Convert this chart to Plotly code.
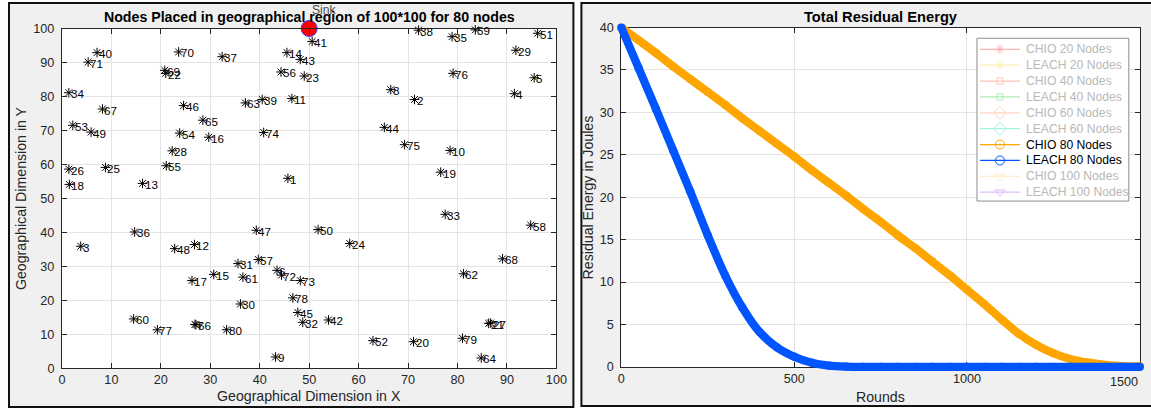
import plotly.graph_objects as go

W, H = 1151, 409
FONT = "Liberation Sans, Arial, Helvetica, sans-serif"
AXIS_GRAY = "#262626"
GRID_GRAY = "#e4e4e4"
PANEL_GRAY = "#f0f0f0"

# page placement of the figure as it ends up in the captured frame
SX, OX = 0.988, 0.0
SY, OY = 0.961, 7.9
FS = 1 / SX          # font scale keeping text widths on target

# ---------------- node placement data ----------------
node_ids = list(range(1, 81))
node_x = [45.7, 71.3, 3.8, 91.5, 95.5, 43.5, 26.9, 66.5, 43.2, 78.5,
          46.5, 26.8, 16.3, 45.5, 30.7, 29.7, 26.3, 1.5, 76.6, 71.1,
          86.3, 21.0, 49.0, 58.2, 8.8, 1.4, 86.7, 22.3, 91.8, 36.1,
          35.6, 48.7, 77.5, 1.4, 78.9, 14.7, 32.4, 72.1, 40.5, 7.1,
          50.6, 53.9, 48.2, 65.2, 47.7, 24.6, 39.3, 22.8, 5.9, 51.8,
          96.2, 62.9, 2.2, 23.8, 21.1, 44.3, 39.7, 94.8, 83.6, 14.5,
          36.6, 81.2, 37.1, 84.8, 28.5, 27.1, 8.2, 89.1, 20.8, 23.6,
          5.3, 44.4, 48.2, 40.8, 69.3, 79.1, 19.3, 46.7, 81.0, 33.3]
node_y = [55.9, 79.1, 35.9, 80.8, 85.5, 28.8, 12.9, 82.0, 3.3, 64.1,
          79.4, 36.4, 54.4, 92.9, 27.6, 68.0, 25.8, 54.1, 57.7, 7.8,
          13.2, 86.8, 86.0, 36.7, 59.1, 58.6, 13.3, 64.0, 93.6, 18.9,
          30.8, 13.5, 45.3, 81.1, 97.6, 40.1, 91.7, 99.5, 79.1, 92.9,
          96.2, 14.2, 90.9, 70.9, 16.4, 77.3, 40.6, 35.2, 69.5, 40.8,
          98.6, 8.1, 71.5, 69.2, 59.6, 87.2, 32.0, 42.1, 99.6, 14.5,
          26.8, 27.8, 78.1, 3.0, 73.0, 12.8, 76.3, 32.2, 87.7, 93.1,
          90.1, 27.4, 25.8, 69.4, 65.8, 86.8, 11.3, 20.7, 8.8, 11.3]
sink_x = [50]
sink_y = [100]
sink_label = "Sink"
area_ticks = [0, 10, 20, 30, 40, 50, 60, 70, 80, 90, 100]

# ---------------- residual energy data ----------------
rounds = [0, 50, 100, 150, 200, 250, 300, 350, 400, 450, 500, 550, 600, 650,
          700, 750, 800, 850, 900, 950, 1000, 1050, 1100, 1150, 1200, 1250,
          1300, 1350, 1400, 1450, 1500]
chio_80 = [40.0, 38.5, 37.0, 35.4, 33.9, 32.4, 30.9, 29.3, 27.8, 26.3, 24.8,
           23.2, 21.7, 20.2, 18.6, 17.1, 15.5, 14.0, 12.4, 10.8, 9.1, 7.4,
           5.6, 3.9, 2.6, 1.6, 0.9, 0.5, 0.25, 0.1, 0.05]
leach_80 = [40.0, 35.2, 30.4, 25.5, 20.6, 15.5, 10.8, 7.0, 4.1, 2.3, 1.2,
            0.5, 0.15, 0.03, 0.0, 0.0, 0.0, 0.0, 0.0, 0.0, 0.0, 0.0, 0.0,
            0.0, 0.0, 0.0, 0.0, 0.0, 0.0, 0.0, 0.0]
round_ticks = [0, 500, 1000, 1500]
round_tick_text = ["0", "500", "1000", ""]   # last one is set flush right below
last_round_label = "1500"
energy_ticks = [0, 5, 10, 15, 20, 25, 30, 35, 40]
ROUND_RANGE = [0, 1500]
ENERGY_RANGE = [0, 40]

legend_names = ["CHIO 20 Nodes", "LEACH 20 Nodes", "CHIO 40 Nodes", "LEACH 40 Nodes",
                "CHIO 60 Nodes", "LEACH 60 Nodes", "CHIO 80 Nodes", "LEACH 80 Nodes",
                "CHIO 100 Nodes", "LEACH 100 Nodes"]
legend_colors = ["#ff2020", "#ffd21f", "#ff5a3c", "#22cc22", "#ff8a4a",
                 "#00e0b0", "#ffa500", "#0055ff", "#ffcf60", "#a040ff"]
legend_symbols = ["asterisk-open", "asterisk-open", "square-open", "square-open",
                  "diamond-open", "diamond-open", "circle-open", "circle-open",
                  "triangle-down-open", "triangle-down-open"]
legend_sizes = [8, 8, 6, 6, 10, 10, 9, 9, 9, 9]
legend_active = [False, False, False, False, False, False, True, True, False, False]

ORANGE = legend_colors[6]
BLUE = legend_colors[7]

# frame-pixel boxes of the two plotting areas
MAP_BOX = (58, 553, 29.3, 367.3)      # left, right, top, bottom
ENERGY_BOX = (618, 1137, 28.3, 366)


def px(x):
    return (x - OX) / SX / W


def py(y):
    return 1 - (y - OY) / SY / H


def fs(size):
    return round(size * FS, 2)


fig = go.Figure()

# --- node map ---
fig.add_trace(go.Scatter(
    x=node_x, y=node_y, mode="markers", xaxis="x", yaxis="y",
    marker=dict(symbol="asterisk-open", size=8, color="black",
                line=dict(color="black", width=1)),
    cliponaxis=False, showlegend=False, hoverinfo="skip"))
fig.add_trace(go.Scatter(
    x=sink_x, y=sink_y, mode="markers", xaxis="x", yaxis="y",
    marker=dict(symbol="circle", size=16, color="#ff0000",
                line=dict(color="#3a3aff", width=1)),
    cliponaxis=False, showlegend=False, hoverinfo="skip"))

# --- energy axes frame (grid, ticks, box) ---
fig.add_trace(go.Scatter(
    x=[None], y=[None], mode="lines", xaxis="x2", yaxis="y2",
    showlegend=False, hoverinfo="skip"))

# --- energy curves on an unclipped twin of the energy axes (same scale,
# a few pixels wider) so the thick strokes are not cut at the frame ---
PAD = 12
el, er, et, eb = ENERGY_BOX
rx = (ROUND_RANGE[1] - ROUND_RANGE[0]) / (er - el)
ry = (ENERGY_RANGE[1] - ENERGY_RANGE[0]) / (eb - et)
twin_x_range = [ROUND_RANGE[0] - PAD * rx, ROUND_RANGE[1] + PAD * rx]
twin_y_range = [ENERGY_RANGE[0] - PAD * ry, ENERGY_RANGE[1] + PAD * ry]

for series, color in ((chio_80, ORANGE), (leach_80, BLUE)):
    fig.add_trace(go.Scatter(
        x=rounds, y=series, mode="lines+markers", xaxis="x3", yaxis="y3",
        line=dict(color=color, width=8.2, shape="spline", smoothing=0.7),
        marker=dict(size=8.2, color=color, line=dict(width=0)),
        cliponaxis=False, showlegend=False, hoverinfo="skip"))

# --- legend glyphs (frame-pixel overlay) ---
LEG_LEFT, LEG_RIGHT, LEG_TOP, LEG_BOTTOM = 974, 1126, 39, 201
leg_y0, leg_step = 50, 15.8
for i, name in enumerate(legend_names):
    yc = leg_y0 + i * leg_step
    fig.add_trace(go.Scatter(
        x=[977, 997, 1017], y=[yc, yc, yc], mode="lines+markers",
        xaxis="x4", yaxis="y4",
        line=dict(color=legend_colors[i], width=1.2),
        marker=dict(symbol=legend_symbols[i], size=legend_sizes[i],
                    color=legend_colors[i], opacity=[0, 1, 0],
                    line=dict(color=legend_colors[i], width=1)),
        opacity=1.0 if legend_active[i] else 0.35,
        showlegend=False, hoverinfo="skip"))

axis_common = dict(
    showline=True, linecolor=AXIS_GRAY, linewidth=1, mirror="ticks",
    ticks="inside", ticklen=5, tickcolor=AXIS_GRAY, tickwidth=1,
    showgrid=True, gridcolor=GRID_GRAY, gridwidth=1, zeroline=False,
    tickfont=dict(family=FONT, size=fs(12.5), color=AXIS_GRAY), fixedrange=True)

annotations = []
# node labels
for nid, nx, ny in zip(node_ids, node_x, node_y):
    annotations.append(dict(
        x=nx, y=ny, xref="x", yref="y", text=str(nid), showarrow=False,
        xanchor="left", yanchor="middle", xshift=0, yshift=-1,
        font=dict(family=FONT, size=fs(11.5), color="black")))
# sink label
annotations.append(dict(
    x=px(306), y=py(11), xref="paper", yref="paper", text=sink_label,
    showarrow=False, xanchor="left", yanchor="middle",
    font=dict(family=FONT, size=fs(12), color="#4a4a4a")))
# titles and axis labels
annotations += [
    dict(x=px(305.5), y=py(18), text="<b>Nodes Placed in geographical region of 100*100 for 80 nodes</b>",
         font=dict(family=FONT, size=fs(14), color="black")),
    dict(x=px(305.5), y=py(395), text="Geographical Dimension in X",
         font=dict(family=FONT, size=fs(14), color=AXIS_GRAY)),
    dict(x=px(17), y=py(198), text="Geographical Dimension in Y", textangle=-90,
         font=dict(family=FONT, size=fs(14), color=AXIS_GRAY)),
    dict(x=px(877.5), y=py(17.5), text="<b>Total Residual Energy</b>",
         font=dict(family=FONT, size=fs(14.5), color="black")),
    dict(x=px(877.5), y=py(396), text="Rounds",
         font=dict(family=FONT, size=fs(14), color=AXIS_GRAY)),
    dict(x=px(585), y=py(197), text="Residual Energy in Joules", textangle=-90,
         font=dict(family=FONT, size=fs(14), color=AXIS_GRAY)),
]
for a in annotations[-6:]:
    a.update(xref="paper", yref="paper", showarrow=False,
             xanchor="center", yanchor="middle")
# last round tick label, kept inside the frame edge
annotations.append(dict(
    x=1.0, y=py(381.5), xref="paper", yref="paper", text=last_round_label,
    showarrow=False, xanchor="right", yanchor="middle",
    font=dict(family=FONT, size=fs(12.5), color=AXIS_GRAY)))
# legend texts
for i, name in enumerate(legend_names):
    annotations.append(dict(
        x=1021, y=leg_y0 + i * leg_step, xref="x4", yref="y4", text=name,
        showarrow=False, xanchor="left", yanchor="middle",
        font=dict(family=FONT, size=fs(12),
                  color="black" if legend_active[i] else "#b8b8b8")))

shapes = [
    # figure panels
    dict(type="rect", xref="paper", yref="paper", x0=px(5), x1=px(570),
         y0=py(406), y1=py(4), fillcolor=PANEL_GRAY,
         line=dict(color="#111111", width=2), layer="below"),
    dict(type="rect", xref="paper", yref="paper", x0=px(578), x1=px(1150),
         y0=py(405), y1=py(4), fillcolor=PANEL_GRAY,
         line=dict(color="#111111", width=2), layer="below"),
    # white plotting areas
    dict(type="rect", xref="x domain", yref="y domain", x0=0, x1=1, y0=0, y1=1,
         fillcolor="white", line=dict(width=0), layer="below"),
    dict(type="rect", xref="x2 domain", yref="y2 domain", x0=0, x1=1, y0=0, y1=1,
         fillcolor="white", line=dict(width=0), layer="below"),
    # legend box
    dict(type="rect", xref="x4", yref="y4", x0=LEG_LEFT, x1=LEG_RIGHT,
         y0=LEG_TOP, y1=LEG_BOTTOM, fillcolor="white",
         line=dict(color="#8c8c8c", width=1), layer="between"),
]

ml, mr, mt, mb = MAP_BOX
fig.update_layout(
    width=W, height=H, autosize=False,
    margin=dict(l=0, r=0, t=0, b=0),
    paper_bgcolor="white", plot_bgcolor="rgba(0,0,0,0)",
    showlegend=False,
    xaxis=dict(axis_common, domain=[px(ml), px(mr)], range=[0, 100],
               tickvals=area_ticks, anchor="y"),
    yaxis=dict(axis_common, domain=[py(mb), py(mt)], range=[0, 100],
               tickvals=area_ticks, anchor="x", ticklabelstandoff=4),
    xaxis2=dict(axis_common, domain=[px(el), min(px(er), 1.0)], range=ROUND_RANGE,
                tickvals=round_ticks, ticktext=round_tick_text, anchor="y2"),
    yaxis2=dict(axis_common, domain=[py(eb), py(et)], range=ENERGY_RANGE,
                tickvals=energy_ticks, anchor="x2", ticklabelstandoff=4),
    xaxis3=dict(domain=[px(el - PAD), min(px(er + PAD), 1.0)],
                range=[twin_x_range[0],
                       ROUND_RANGE[0] + (min(px(er + PAD), 1.0) * W * SX + OX - el) * rx],
                visible=False, anchor="y3", fixedrange=True),
    yaxis3=dict(domain=[py(eb + PAD), py(et - PAD)], range=twin_y_range,
                visible=False, anchor="x3", fixedrange=True),
    xaxis4=dict(domain=[0, 1], range=[OX, OX + SX * W], visible=False,
                anchor="y4", fixedrange=True),
    yaxis4=dict(domain=[0, 1], range=[OY + SY * H, OY], visible=False,
                anchor="x4", fixedrange=True),
    annotations=annotations,
    shapes=shapes,
)

fig.write_html("out.html")
